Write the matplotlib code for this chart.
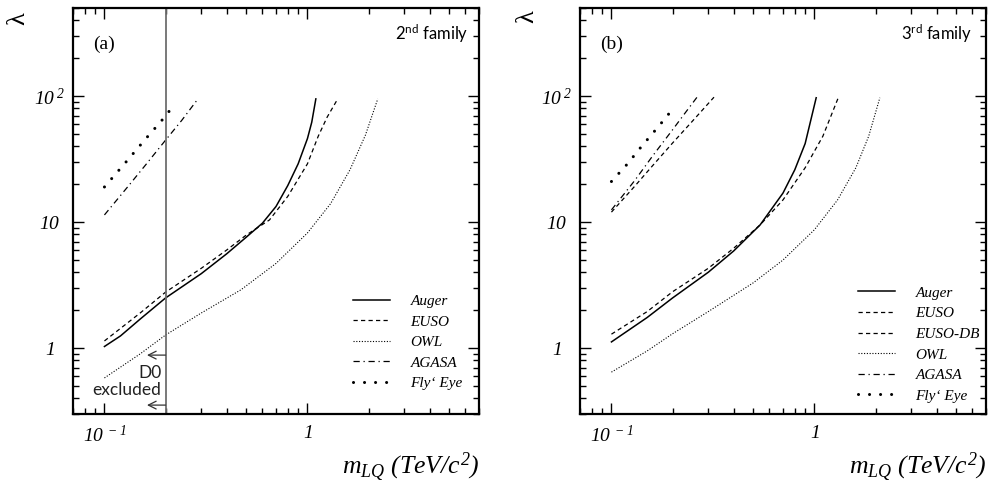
import matplotlib
matplotlib.use("Agg")
import matplotlib.pyplot as plt
from matplotlib.ticker import LogLocator, NullFormatter, FixedLocator, FixedFormatter

# Italic Times-like digits and letters in every math label
plt.rcParams['mathtext.fontset'] = 'custom'
plt.rcParams['mathtext.rm'] = 'Liberation Serif:italic'
plt.rcParams['mathtext.it'] = 'Liberation Serif:italic'
plt.rcParams['mathtext.sf'] = 'Lato'
plt.rcParams['font.family'] = ['Liberation Serif', 'DejaVu Serif']

# ---- 2nd family (panel a) ----
auger_a_m = [0.1, 0.12, 0.15, 0.2, 0.3, 0.4, 0.5, 0.6, 0.7, 0.8, 0.9, 1.0, 1.05, 1.1]
auger_a_l = [1.03, 1.25, 1.7, 2.5, 3.9, 5.6, 7.6, 9.8, 13.3, 19.5, 29, 46, 62, 95]
euso_a_m = [0.1, 0.15, 0.2, 0.3, 0.4, 0.5, 0.65, 0.8, 1.0, 1.13, 1.25, 1.41]
euso_a_l = [1.14, 1.9, 2.78, 4.3, 6.0, 7.9, 10.4, 16, 29, 48, 68, 95]
owl_a_m = [0.1, 0.15, 0.2, 0.3, 0.47, 0.7, 1.0, 1.3, 1.62, 1.93, 2.22]
owl_a_l = [0.58, 0.9, 1.27, 1.9, 2.9, 4.7, 8.2, 14, 26, 49, 95]
agasa_a_m = [0.1, 0.13, 0.16, 0.2, 0.24, 0.286]
agasa_a_l = [11.4, 19, 28.6, 44.7, 64, 93]
fly_a_m = [0.1, 0.13, 0.16, 0.19, 0.21]
fly_a_l = [19, 31, 46, 63, 77]

# ---- 3rd family (panel b) ----
auger_b_m = [0.1, 0.15, 0.2, 0.3, 0.4, 0.54, 0.7, 0.8, 0.9, 1.02]
auger_b_l = [1.12, 1.75, 2.5, 4.0, 5.9, 9.5, 17, 26, 42, 97]
euso_b_m = [0.1, 0.15, 0.2, 0.3, 0.4, 0.54, 0.7, 0.9, 1.1, 1.31]
euso_b_l = [1.29, 1.95, 2.8, 4.3, 6.2, 9.5, 15, 27, 48, 97]
eusodb_b_m = [0.1, 0.13, 0.16, 0.2, 0.25, 0.32]
eusodb_b_l = [12, 19.2, 28.2, 42.4, 63, 98]
owl_b_m = [0.1, 0.15, 0.2, 0.3, 0.5, 0.7, 1.0, 1.3, 1.6, 1.85, 2.1]
owl_b_l = [0.645, 0.95, 1.3, 1.95, 3.3, 5.0, 8.7, 15, 27, 48, 97]
agasa_b_m = [0.1, 0.13, 0.16, 0.2, 0.23, 0.264]
agasa_b_l = [12.5, 21.3, 33.7, 54, 73, 98]
fly_b_m = [0.1, 0.12, 0.14, 0.17, 0.194]
fly_b_l = [21, 29, 39.5, 57, 74]

d0_limit = 0.2

x_ticks = [0.1, 1]
x_ticklabels = [r'$10^{\ -1}$', r'$1$']
y_ticks = [1, 10, 100]
y_ticklabels = [r'$1$', r'$10$', r'$10^{\ 2}$']

STYLES = {
    'Auger': dict(ls='-', lw=1.1),
    'EUSO': dict(ls=(0, (3.4, 2.6)), lw=0.9),
    'EUSO-DB': dict(ls=(0, (3.4, 2.6)), lw=0.9),
    'OWL': dict(ls=(0, (1, 1.5)), lw=0.8),
    'AGASA': dict(ls=(0, (5, 3, 1, 3)), lw=0.9),
    "Fly‘ Eye": dict(ls=(0, (0.01, 3.6)), lw=2.2, dash_capstyle='round',
                     solid_capstyle='round'),
}

fig = plt.figure(figsize=(9.88, 4.90), dpi=100)
ax_a = fig.add_axes([73 / 988, 76 / 490, 406 / 988, 406 / 490])
ax_b = fig.add_axes([580 / 988, 76 / 490, 406 / 988, 406 / 490])


def style_axes(ax, lam_x, lam_y):
    ax.set_xscale('log')
    ax.set_yscale('log')
    ax.set_xlim(0.07, 7)
    ax.set_ylim(0.3, 500)
    for s in ax.spines.values():
        s.set_linewidth(1.6)
    ax.xaxis.set_major_locator(FixedLocator(x_ticks))
    ax.xaxis.set_major_formatter(FixedFormatter(x_ticklabels))
    ax.yaxis.set_major_locator(FixedLocator(y_ticks))
    ax.yaxis.set_major_formatter(FixedFormatter(y_ticklabels))
    ax.xaxis.set_minor_locator(LogLocator(base=10, subs=range(2, 10)))
    ax.yaxis.set_minor_locator(LogLocator(base=10, subs=range(2, 10)))
    ax.xaxis.set_minor_formatter(NullFormatter())
    ax.yaxis.set_minor_formatter(NullFormatter())
    ax.tick_params(which='both', direction='in', top=True, right=True, width=1.0)
    ax.tick_params(which='major', length=8.0, labelsize=14)
    ax.tick_params(which='minor', length=4.5)
    ax.tick_params(axis='x', which='major', pad=8)
    ax.tick_params(axis='y', which='major', pad=16.5)
    for lab in ax.get_yticklabels():
        lab.set_ha('center')
    ax.set_xlabel(r'$m_{LQ}\ (TeV/c^{2})$', fontsize=18.5, loc='right')
    ax.xaxis.set_label_coords(1.0, -0.09)
    ax.set_ylabel('λ', fontsize=19, rotation=90, va='center', ha='center')
    ax.yaxis.set_label_coords(lam_x, lam_y)


style_axes(ax_a, -0.135, 0.975)
style_axes(ax_b, -0.13, 0.98)

# Panel (a): second generation
ax_a.plot(auger_a_m, auger_a_l, color='black', label='Auger', **STYLES['Auger'])
ax_a.plot(euso_a_m, euso_a_l, color='black', label='EUSO', **STYLES['EUSO'])
ax_a.plot(owl_a_m, owl_a_l, color='black', label='OWL', **STYLES['OWL'])
ax_a.plot(agasa_a_m, agasa_a_l, color='black', label='AGASA', **STYLES['AGASA'])
ax_a.plot(fly_a_m, fly_a_l, color='black', label="Fly‘ Eye", **STYLES["Fly‘ Eye"])

ax_a.axvline(d0_limit, color='#6e6e6e', lw=1.3)
for yy in (0.88, 0.353):
    ax_a.annotate('', xy=(0.162, yy), xytext=(d0_limit, yy),
                  arrowprops=dict(arrowstyle='->', color='#333333', lw=0.9,
                                  shrinkA=0, shrinkB=0, mutation_scale=14))
ax_a.text(0.167, 0.63, 'D0', family='Lato', fontsize=12.5, ha='center', va='center',
          color='#222222')
ax_a.text(0.128, 0.464, 'excluded', family='Lato', fontsize=12.5, ha='center',
          va='center', color='#222222')

ax_a.text(0.049, 0.911, '(a)', transform=ax_a.transAxes, fontsize=14, ha='left',
          va='center')
ax_a.text(0.973, 0.936, r'$\mathsf{2^{nd}\ family}$', transform=ax_a.transAxes,
          fontsize=12, ha='right', va='center')

leg_a = ax_a.legend(loc='upper left', bbox_to_anchor=(0.675, 0.31), frameon=False,
                    fontsize=11, handlelength=2.4, handletextpad=1.35, labelspacing=0.45,
                    borderaxespad=0)
for t in leg_a.get_texts():
    t.set_fontstyle('italic')

# Panel (b): third generation
ax_b.plot(auger_b_m, auger_b_l, color='black', label='Auger', **STYLES['Auger'])
ax_b.plot(euso_b_m, euso_b_l, color='black', label='EUSO', **STYLES['EUSO'])
ax_b.plot(eusodb_b_m, eusodb_b_l, color='black', label='EUSO-DB', **STYLES['EUSO-DB'])
ax_b.plot(owl_b_m, owl_b_l, color='black', label='OWL', **STYLES['OWL'])
ax_b.plot(agasa_b_m, agasa_b_l, color='black', label='AGASA', **STYLES['AGASA'])
ax_b.plot(fly_b_m, fly_b_l, color='black', label="Fly‘ Eye", **STYLES["Fly‘ Eye"])

ax_b.text(0.049, 0.911, '(b)', transform=ax_b.transAxes, fontsize=14, ha='left',
          va='center')
ax_b.text(0.965, 0.936, r'$\mathsf{3^{rd}\ family}$', transform=ax_b.transAxes,
          fontsize=12, ha='right', va='center')

leg_b = ax_b.legend(loc='upper left', bbox_to_anchor=(0.67, 0.33), frameon=False,
                    fontsize=11, handlelength=2.4, handletextpad=1.35, labelspacing=0.45,
                    borderaxespad=0)
for t in leg_b.get_texts():
    t.set_fontstyle('italic')

fig.savefig('out.png', dpi=100)
